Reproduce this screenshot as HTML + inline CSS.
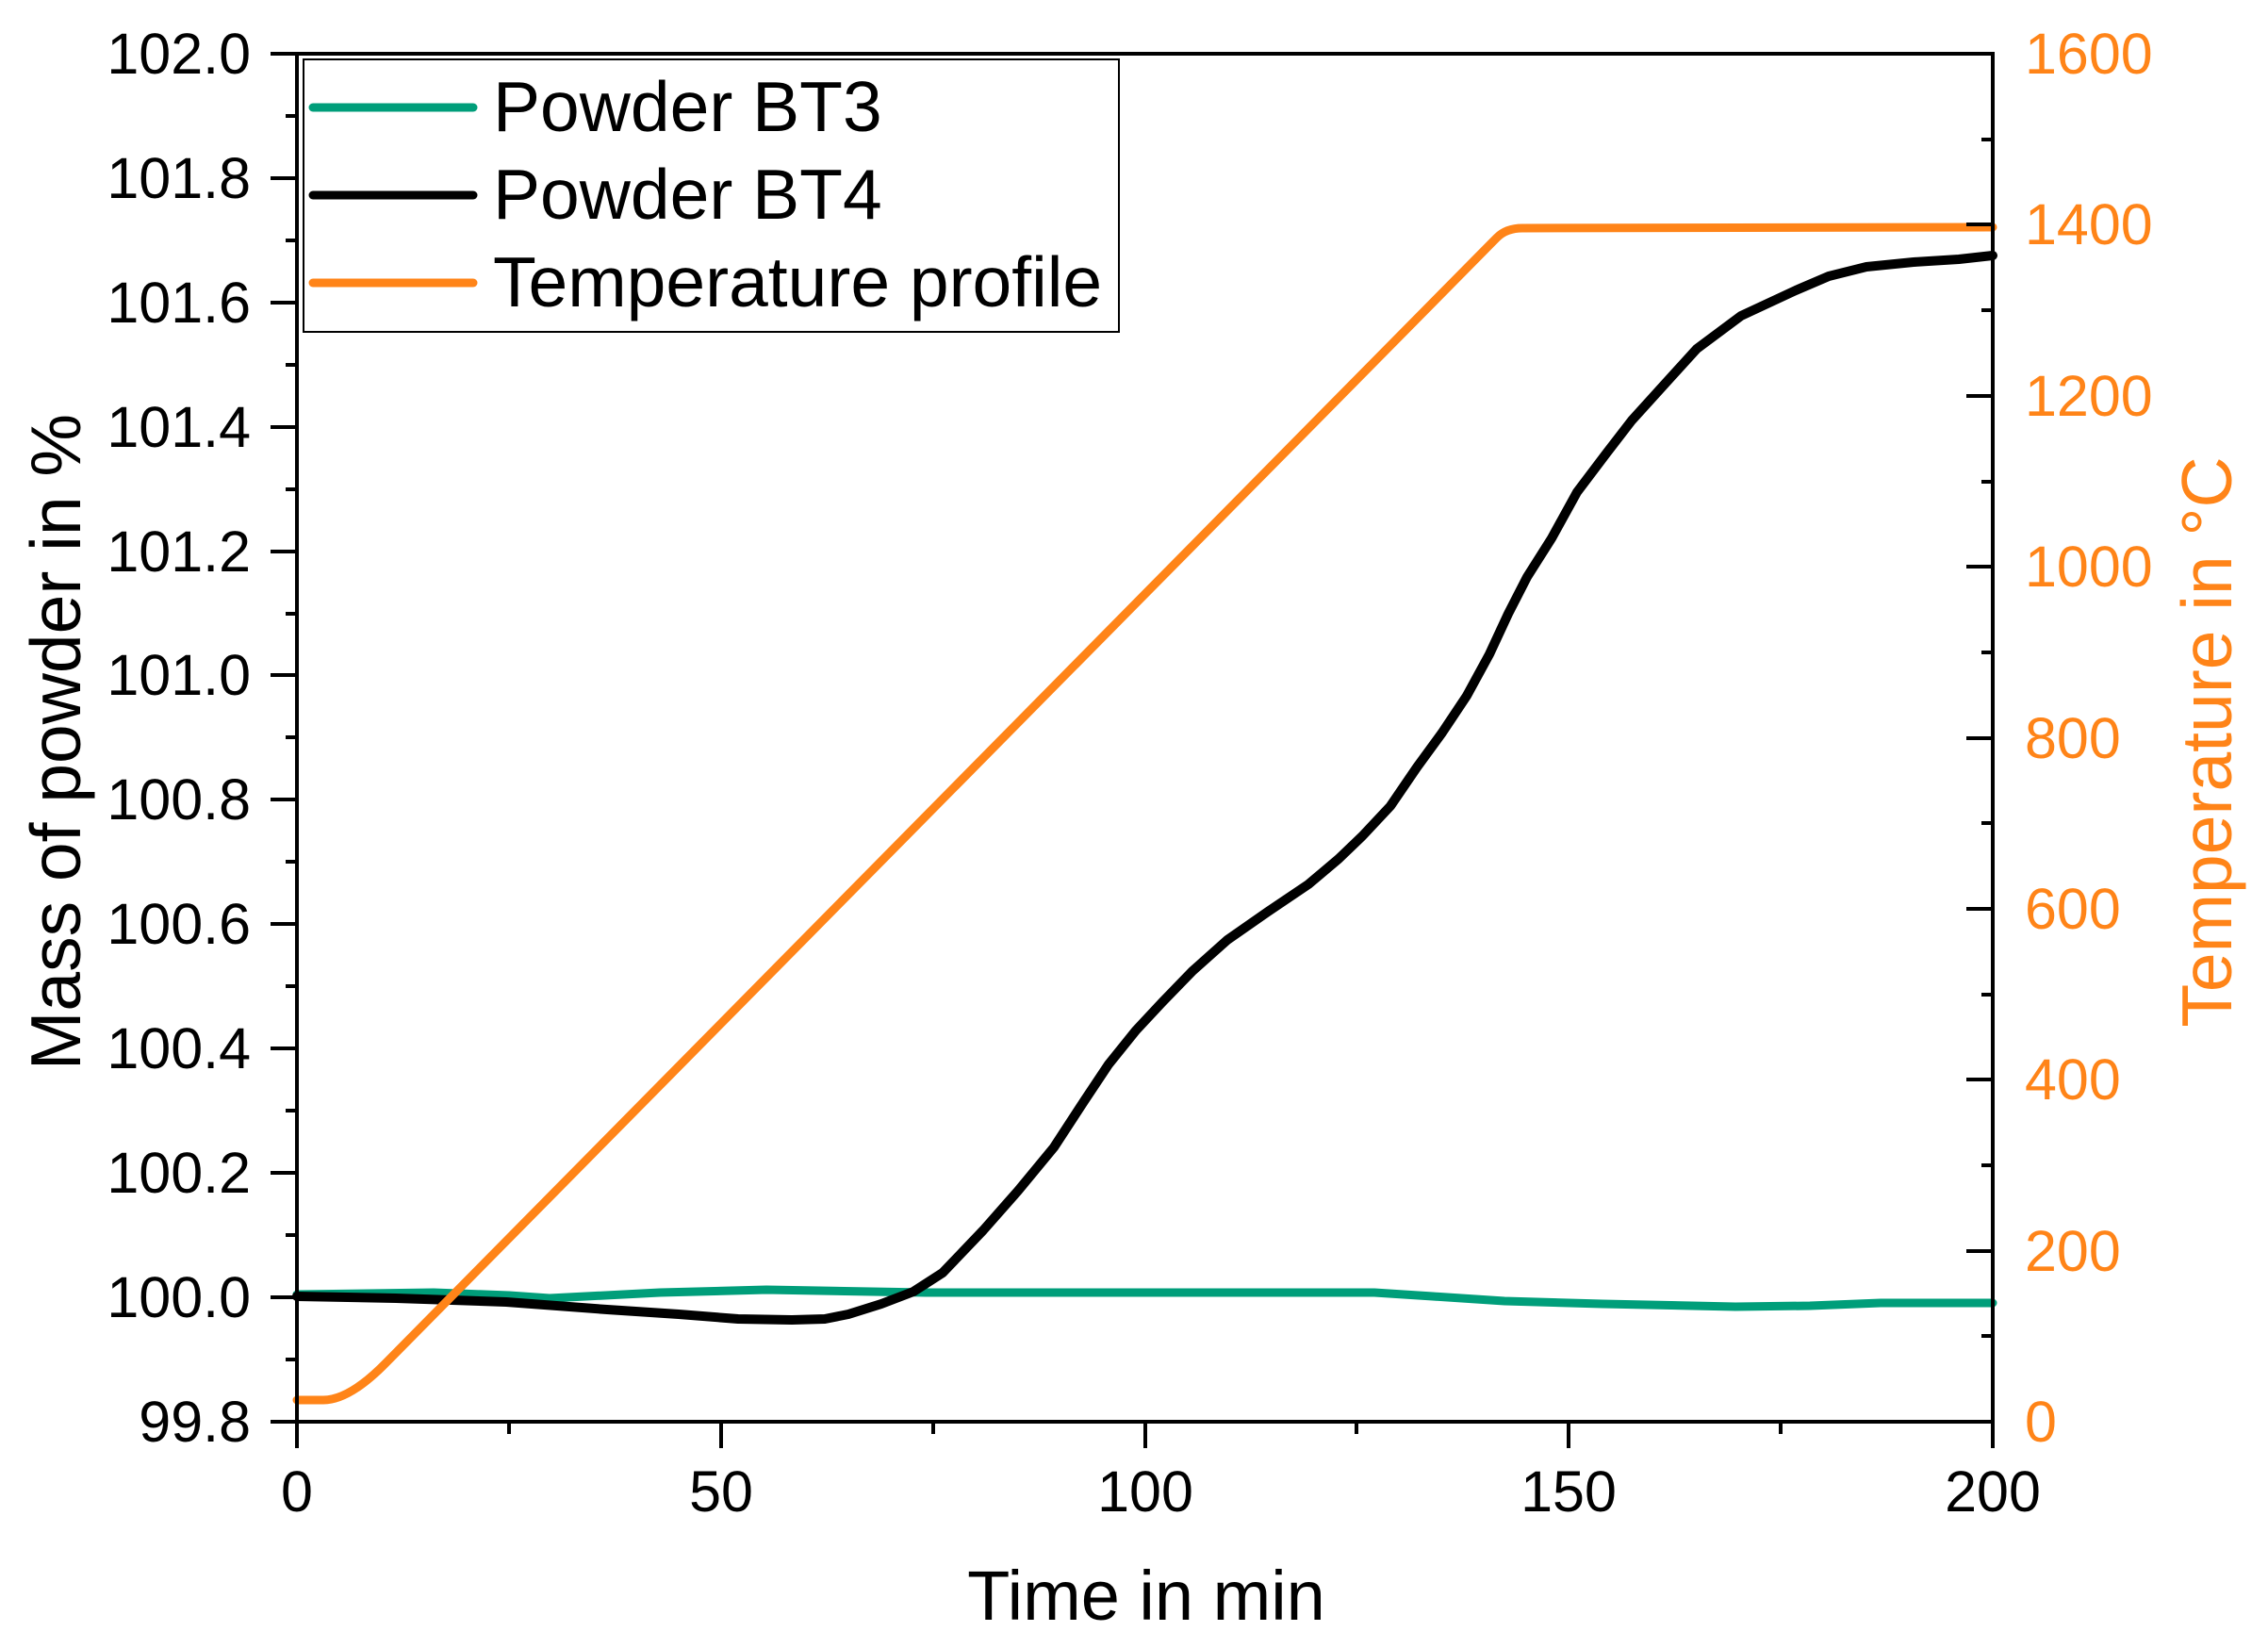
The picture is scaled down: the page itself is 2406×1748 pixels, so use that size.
<!DOCTYPE html>
<html><head><meta charset="utf-8"><style>html,body{margin:0;padding:0;background:#fff}svg{display:block}</style></head>
<body>
<svg width="2406" height="1748" viewBox="0 0 2406 1748" xmlns="http://www.w3.org/2000/svg" font-family="Liberation Sans, Arial, sans-serif">
<rect width="2406" height="1748" fill="#fff"/>
<g fill="none" stroke-linejoin="round" stroke-linecap="round">
<path stroke="#009e7a" stroke-width="9" d="M315,1373 L460,1371 L540,1374 L583,1377 L700,1371 L813,1368 L982,1371 L1200,1371 L1458,1371 L1520,1375 L1596,1380 L1700,1383 L1841,1386 L1920,1385 L1995,1382 L2114,1382"/>
<path stroke="#000" stroke-width="10" d="M315,1375 L420,1377 L537,1381 L644,1389 L720,1394 L783,1399 L840,1400 L875,1399 L900,1394 L935,1383 L969,1370 L1000,1350 L1043,1305 L1080,1263 L1118,1217 L1150,1168 L1176,1129 L1205,1093 L1233,1063 L1265,1030 L1302,997 L1345,967 L1388,938 L1420,911 L1445,887 L1475,855 L1503,814 L1530,777 L1556,738 L1580,694 L1600,651 L1620,612 L1646,571 L1673,522 L1704,481 L1731,446 L1760,414 L1800,370 L1847,335 L1905,308 L1940,293 L1980,283 L2030,278 L2078,275 L2114,271"/>
<path stroke="#ff8418" stroke-width="9" d="M315,1485 L343,1485 Q371,1485 410,1445 L1588,252 Q1598,242 1615,242 L2114,241"/>
</g>
<g stroke="#000" stroke-width="4" fill="none">
<line x1="315" y1="57" x2="2116" y2="57"/>
<line x1="315" y1="55" x2="315" y2="1510"/>
<line x1="2114" y1="55" x2="2114" y2="1510"/>
<line x1="313" y1="1508" x2="2116" y2="1508"/>
</g>
<g stroke="#000" stroke-width="4">
<line x1="287" y1="57" x2="315" y2="57"/><line x1="287" y1="189" x2="315" y2="189"/><line x1="287" y1="321" x2="315" y2="321"/><line x1="287" y1="453" x2="315" y2="453"/><line x1="287" y1="585" x2="315" y2="585"/><line x1="287" y1="716" x2="315" y2="716"/><line x1="287" y1="848" x2="315" y2="848"/><line x1="287" y1="980" x2="315" y2="980"/><line x1="287" y1="1112" x2="315" y2="1112"/><line x1="287" y1="1244" x2="315" y2="1244"/><line x1="287" y1="1376" x2="315" y2="1376"/><line x1="287" y1="1508" x2="315" y2="1508"/>
<line x1="303" y1="123" x2="315" y2="123"/><line x1="303" y1="255" x2="315" y2="255"/><line x1="303" y1="387" x2="315" y2="387"/><line x1="303" y1="519" x2="315" y2="519"/><line x1="303" y1="651" x2="315" y2="651"/><line x1="303" y1="782" x2="315" y2="782"/><line x1="303" y1="914" x2="315" y2="914"/><line x1="303" y1="1046" x2="315" y2="1046"/><line x1="303" y1="1178" x2="315" y2="1178"/><line x1="303" y1="1310" x2="315" y2="1310"/><line x1="303" y1="1442" x2="315" y2="1442"/>
<line x1="315" y1="1508" x2="315" y2="1536"/><line x1="765" y1="1508" x2="765" y2="1536"/><line x1="1215" y1="1508" x2="1215" y2="1536"/><line x1="1664" y1="1508" x2="1664" y2="1536"/><line x1="2114" y1="1508" x2="2114" y2="1536"/>
<line x1="540" y1="1508" x2="540" y2="1521"/><line x1="990" y1="1508" x2="990" y2="1521"/><line x1="1439" y1="1508" x2="1439" y2="1521"/><line x1="1889" y1="1508" x2="1889" y2="1521"/>
<line x1="2086" y1="1327" x2="2114" y2="1327"/><line x1="2086" y1="1145" x2="2114" y2="1145"/><line x1="2086" y1="964" x2="2114" y2="964"/><line x1="2086" y1="783" x2="2114" y2="783"/><line x1="2086" y1="601" x2="2114" y2="601"/><line x1="2086" y1="420" x2="2114" y2="420"/><line x1="2086" y1="238" x2="2114" y2="238"/>
<line x1="2102" y1="1417" x2="2114" y2="1417"/><line x1="2102" y1="1236" x2="2114" y2="1236"/><line x1="2102" y1="1055" x2="2114" y2="1055"/><line x1="2102" y1="873" x2="2114" y2="873"/><line x1="2102" y1="692" x2="2114" y2="692"/><line x1="2102" y1="511" x2="2114" y2="511"/><line x1="2102" y1="329" x2="2114" y2="329"/><line x1="2102" y1="148" x2="2114" y2="148"/>
</g>
<g font-size="61" text-anchor="end" fill="#000">
<text x="266" y="78">102.0</text><text x="266" y="210">101.8</text><text x="266" y="342">101.6</text><text x="266" y="474">101.4</text><text x="266" y="606">101.2</text><text x="266" y="737">101.0</text><text x="266" y="869">100.8</text><text x="266" y="1001">100.6</text><text x="266" y="1133">100.4</text><text x="266" y="1265">100.2</text><text x="266" y="1397">100.0</text><text x="266" y="1529">99.8</text>
</g>
<g font-size="61" text-anchor="middle" fill="#000">
<text x="315" y="1603">0</text><text x="765" y="1603">50</text><text x="1215" y="1603">100</text><text x="1664" y="1603">150</text><text x="2114" y="1603">200</text>
</g>
<g font-size="61" fill="#ff8418">
<text x="2148" y="1529">0</text><text x="2148" y="1348">200</text><text x="2148" y="1166">400</text><text x="2148" y="985">600</text><text x="2148" y="804">800</text><text x="2148" y="622">1000</text><text x="2148" y="441">1200</text><text x="2148" y="259">1400</text><text x="2148" y="78">1600</text>
</g>
<text x="1216" y="1718" font-size="74" text-anchor="middle" fill="#000">Time in min</text>
<text transform="translate(85,787) rotate(-90)" font-size="75" text-anchor="middle" fill="#000">Mass of powder in %</text>
<text transform="translate(2367,787) rotate(-90)" font-size="75" text-anchor="middle" fill="#ff8418">Temperature in °C</text>
<rect x="322" y="63" width="865" height="289" fill="#fff" stroke="#000" stroke-width="2"/>
<g stroke-width="9" stroke-linecap="round">
<line x1="332" y1="114" x2="502" y2="114" stroke="#009e7a"/>
<line x1="332" y1="207" x2="502" y2="207" stroke="#000"/>
<line x1="332" y1="300" x2="502" y2="300" stroke="#ff8418"/>
</g>
<g font-size="75" fill="#000">
<text x="523" y="139">Powder BT3</text><text x="523" y="232">Powder BT4</text><text x="523" y="325">Temperature profile</text>
</g>
</svg>
</body></html>
